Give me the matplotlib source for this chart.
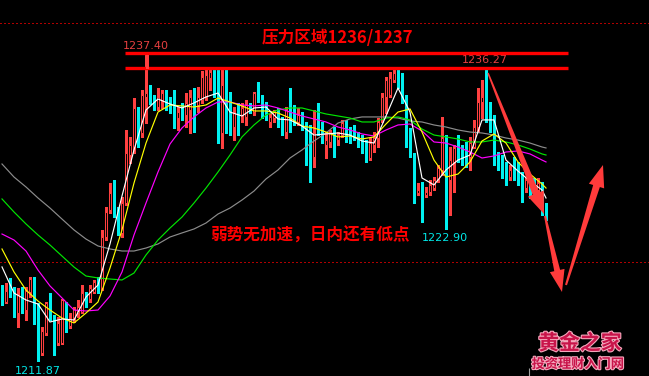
import matplotlib
matplotlib.use("Agg")
import matplotlib.pyplot as plt
import matplotlib.patheffects as pe
from matplotlib.patches import Polygon
import numpy as np

# ---------------- data ----------------
opens = [1217.69,1216.77,1218.02,1217.52,1215.85,1217.69,1216.10,1217.61,1218.69,1216.27,
         1212.51,1214.18,1217.19,1215.27,1213.35,1213.35,1216.60,1214.77,1215.35,1215.85,
         1215.94,1217.52,1217.02,1217.61,1218.78,1217.94,1222.20,1224.46,1225.88,1224.29,
         1222.54,1225.04,1229.05,1229.72,1232.98,1230.89,1233.90,1234.31,1233.65,1233.06,
         1233.65,1234.23,1233.65,1233.06,1232.14,1232.64,1232.39,1232.81,1233.90,1233.23,
         1233.65,1233.90,1235.48,1235.90,1235.32,1230.89,1233.90,1232.14,1231.39,1233.06,
         1232.39,1232.23,1233.06,1232.64,1234.15,1233.90,1233.23,1231.81,1232.14,1232.56,
         1231.97,1230.97,1232.81,1232.23,1231.81,1232.14,1231.39,1229.47,1228.88,1231.81,
         1231.56,1229.89,1230.14,1230.97,1230.30,1230.72,1231.39,1231.14,1230.89,1230.72,
         1230.47,1229.47,1228.80,1229.89,1230.47,1231.97,1233.90,1234.06,1235.32,1235.90,
         1234.73,1233.48,1230.97,1228.88,1225.88,1226.13,1225.71,1225.96,1226.29,1226.96,
         1227.80,1230.56,1226.96,1228.47,1230.56,1229.47,1229.64,1228.88,1229.72,1231.39,
         1233.48,1233.81,1233.06,1232.14,1228.80,1228.47,1227.97,1227.21,1228.63,1227.80,
         1227.38,1226.29,1226.55,1226.80,1226.13,1226.71,1224.29]
highs = [1218.19,1218.36,1218.78,1218.02,1217.94,1218.02,1218.02,1218.86,1218.86,1216.69,
         1214.68,1216.77,1217.52,1215.69,1215.52,1217.02,1216.77,1215.85,1216.35,1216.94,
         1218.19,1217.61,1218.19,1218.61,1218.86,1222.79,1224.71,1226.71,1226.96,1224.71,
         1225.54,1231.14,1230.56,1233.81,1233.06,1234.48,1237.40,1234.90,1234.06,1234.65,
         1234.48,1234.48,1233.90,1234.48,1233.06,1233.40,1234.23,1234.48,1234.65,1234.73,
         1236.07,1236.15,1236.32,1236.40,1236.15,1236.40,1236.40,1234.31,1233.06,1233.40,
         1233.40,1233.65,1233.40,1234.31,1235.15,1234.06,1233.48,1232.56,1232.81,1232.98,
         1232.23,1233.06,1234.65,1233.23,1232.98,1232.64,1231.81,1231.56,1232.81,1233.40,
         1231.81,1230.97,1231.14,1231.39,1230.97,1231.97,1231.97,1231.39,1231.56,1230.97,
         1230.72,1230.30,1230.47,1230.97,1232.14,1234.23,1235.57,1235.99,1236.15,1236.15,
         1235.90,1234.06,1231.31,1229.22,1226.71,1226.80,1226.38,1226.96,1227.21,1228.22,
         1232.23,1230.72,1229.72,1229.89,1230.72,1229.89,1230.14,1230.56,1231.97,1234.65,
         1235.32,1236.27,1233.48,1232.39,1229.30,1229.05,1228.47,1228.22,1228.88,1228.47,
         1227.63,1227.21,1226.80,1227.13,1227.13,1226.80,1225.04]
lows = [1216.52,1216.69,1217.19,1215.52,1214.68,1215.85,1215.27,1217.19,1214.93,1211.87,
        1212.34,1214.01,1215.27,1212.34,1213.18,1213.26,1214.27,1214.60,1215.10,1215.52,
        1215.85,1216.35,1216.77,1217.52,1217.52,1217.77,1221.95,1224.21,1223.87,1222.37,
        1222.20,1224.87,1228.38,1229.22,1229.72,1230.56,1231.72,1233.31,1232.81,1232.81,
        1232.98,1232.81,1232.56,1231.31,1231.14,1231.97,1231.39,1230.89,1230.97,1232.64,
        1233.40,1233.65,1234.48,1233.90,1230.05,1229.64,1230.89,1230.72,1230.30,1230.72,
        1231.81,1231.56,1232.56,1232.39,1233.48,1232.14,1231.97,1231.39,1231.81,1231.39,
        1230.72,1230.47,1230.97,1231.56,1231.56,1231.14,1228.22,1226.80,1228.05,1230.72,
        1230.05,1228.80,1229.72,1228.88,1229.89,1230.56,1230.14,1230.05,1230.30,1229.72,
        1229.22,1228.47,1228.63,1229.30,1229.72,1231.81,1232.56,1233.90,1235.15,1234.65,
        1233.40,1229.72,1228.88,1225.04,1225.71,1223.45,1225.54,1225.71,1226.13,1226.80,
        1227.38,1222.90,1224.04,1225.96,1228.47,1228.22,1228.05,1227.80,1229.64,1230.97,
        1232.14,1231.81,1230.97,1228.22,1227.80,1227.13,1226.55,1226.96,1226.96,1226.55,
        1225.13,1225.96,1225.46,1225.71,1225.96,1224.04,1223.62]
closes = [1216.69,1217.69,1217.36,1215.69,1217.36,1216.10,1217.69,1218.69,1215.77,1212.51,
          1214.35,1216.69,1215.52,1213.18,1215.02,1216.94,1214.52,1215.43,1216.19,1216.35,
          1217.52,1217.19,1217.94,1218.44,1217.77,1222.20,1224.29,1225.88,1224.29,1222.62,
          1225.04,1229.22,1229.89,1232.98,1230.56,1234.06,1234.23,1233.65,1233.15,1233.90,
          1234.23,1232.98,1232.81,1232.14,1232.64,1232.31,1233.40,1233.90,1233.23,1233.90,
          1235.57,1235.73,1235.99,1234.65,1230.89,1234.90,1231.97,1231.39,1232.56,1232.14,
          1232.98,1233.23,1232.64,1234.23,1233.81,1233.23,1232.23,1232.23,1232.64,1231.81,
          1230.97,1232.81,1231.81,1231.97,1232.39,1231.56,1228.80,1228.80,1230.89,1231.14,
          1230.47,1230.30,1230.97,1230.30,1230.72,1231.72,1230.97,1230.56,1230.56,1230.30,
          1229.47,1228.80,1230.05,1230.47,1231.81,1233.90,1235.32,1235.48,1235.90,1234.73,
          1233.65,1230.89,1229.05,1225.29,1226.13,1225.54,1225.96,1226.55,1226.96,1227.97,
          1230.47,1227.80,1228.63,1229.64,1229.05,1228.88,1228.38,1230.05,1231.39,1233.48,
          1233.90,1232.81,1232.14,1228.80,1228.38,1227.80,1227.21,1227.80,1227.38,1226.80,
          1226.13,1226.96,1225.71,1225.96,1226.71,1224.29,1223.79]

# moving-average lines, read every 3 bars
ma_idx = [0,3,6,9,12,15,18,21,24,27,30,33,36,39,42,45,48,51,54,57,60,63,66,69,72,75,
          78,81,84,87,90,93,96,99,102,105,108,111,114,117,120,123,126,129,132,135,136]
ma_white = [1219.70,1217.52,1216.94,1216.60,1215.10,1215.35,1215.27,1217.19,1218.19,1221.62,
            1225.63,1229.47,1232.81,1233.73,1233.31,1232.98,1233.40,1233.90,1234.23,1232.64,
            1232.31,1232.98,1233.06,1232.06,1231.98,1231.47,1230.72,1230.81,1230.89,1230.72,
            1230.22,1230.05,1232.31,1234.65,1232.64,1227.13,1226.55,1227.80,1228.63,1229.05,
            1231.98,1231.98,1228.63,1227.71,1226.88,1226.13,1225.46]
ma_yellow = [1221.20,1219.28,1217.77,1216.85,1216.10,1215.43,1215.02,1215.85,1216.77,1219.61,
             1222.79,1226.71,1230.05,1232.64,1233.23,1233.15,1233.06,1233.23,1233.81,1233.48,
             1233.15,1232.73,1232.73,1232.56,1232.14,1231.47,1231.31,1230.97,1230.56,1230.64,
             1230.39,1230.56,1231.64,1232.64,1232.90,1230.97,1228.63,1227.21,1227.46,1228.47,
             1230.22,1230.81,1230.05,1228.47,1227.46,1226.63,1226.29]
ma_magenta = [1222.45,1221.95,1221.03,1219.44,1218.11,1217.11,1216.10,1216.02,1216.10,1217.27,
              1219.28,1222.37,1225.04,1227.63,1229.97,1231.31,1232.23,1232.98,1233.48,1233.48,
              1233.23,1233.15,1233.23,1232.98,1232.64,1232.31,1232.06,1231.81,1231.39,1231.14,
              1230.81,1230.64,1231.14,1231.56,1231.64,1231.06,1230.14,1230.05,1229.72,1229.30,
              1228.80,1228.97,1229.30,1229.39,1229.14,1228.63,1228.47]
ma_green = [1225.38,1224.29,1223.29,1222.37,1221.53,1220.61,1219.69,1218.94,1218.78,1218.69,
            1218.61,1219.19,1220.70,1221.95,1222.95,1223.87,1225.04,1226.29,1227.63,1229.05,
            1230.56,1231.56,1232.39,1232.81,1232.98,1232.98,1232.73,1232.48,1232.31,1232.14,
            1231.81,1231.81,1232.14,1232.23,1231.98,1231.22,1230.72,1230.56,1230.39,1230.14,
            1230.14,1230.30,1230.14,1229.89,1229.55,1229.14,1229.05]
ma_gray = [1228.30,1227.21,1226.38,1225.46,1224.62,1223.70,1222.79,1222.03,1221.45,1221.20,
           1221.03,1221.03,1221.28,1221.62,1222.20,1222.54,1222.87,1223.37,1224.12,1224.62,
           1225.29,1226.04,1227.05,1227.80,1228.80,1229.47,1230.22,1230.89,1231.72,1232.06,
           1232.23,1232.23,1232.23,1232.14,1231.89,1231.81,1231.56,1231.39,1231.14,1230.97,
           1230.89,1230.72,1230.47,1230.30,1230.05,1229.72,1229.64]

pressure_label = "压力区域1236/1237"
comment_label = "弱势无加速，日内还有低点"
dotted_levels = [1240.10, 1220.11]

# ---------------- figure ----------------
W, H = 649, 376
fig = plt.figure(figsize=(W / 100, H / 100), dpi=100, facecolor="black")
ax = fig.add_axes([0, 0, 1, 1], facecolor="black")
ax.set_xlim(-0.5, 161.75)
ax.set_ylim(1242.0 - H / 11.97, 1242.0)
ax.axis("off")

RED = "#FF4040"
CYAN = "#00F0F0"

n = len(closes)
x = np.arange(n)
o = np.array(opens); c = np.array(closes); hi = np.array(highs); lo = np.array(lows)
up = c >= o

for lvl in dotted_levels:
    ax.axhline(lvl, color="#B00000", lw=0.8, ls=(0, (1, 2)), zorder=1, antialiased=False)

ax.vlines(x[up], lo[up], hi[up], color=RED, lw=0.8, zorder=2, antialiased=False)
ax.vlines(x[~up], lo[~up], hi[~up], color=CYAN, lw=0.8, zorder=2, antialiased=False)

body_lo = np.minimum(o, c)
body_h = np.maximum(np.abs(c - o), 0.06)
ax.bar(x[~up], body_h[~up], bottom=body_lo[~up], width=0.75, color=CYAN,
       edgecolor=CYAN, linewidth=0, zorder=3, antialiased=False)
ax.bar(x[up], body_h[up], bottom=body_lo[up], width=0.5, facecolor="black",
       edgecolor=RED, linewidth=0.75, zorder=3)

for vals, col in [(ma_gray, "#8C8C8C"), (ma_green, "#00E600"), (ma_magenta, "#FF00FF"),
                  (ma_yellow, "#FFFF00"), (ma_white, "#FFFFFF")]:
    ax.plot(ma_idx, vals, color=col, lw=0.85, zorder=4)

# ---------------- overlay in pixel coordinates ----------------
ov = fig.add_axes([0, 0, 1, 1], facecolor="none")
ov.set_xlim(0, W)
ov.set_ylim(H, 0)
ov.axis("off")

# price labels
imax = int(np.argmax(hi))
ov.text(123, 49, f"{hi[imax]:.2f}", color="#E84040", fontsize=8, family="DejaVu Sans",
        va="baseline", ha="left", zorder=5)
ov.text(462, 63, f"{hi[121]:.2f}", color="#E84040", fontsize=8, family="DejaVu Sans",
        va="baseline", ha="left", zorder=5)
ov.text(422, 241, f"{lo[111]:.2f}", color="#00E8E8", fontsize=8, family="DejaVu Sans",
        va="baseline", ha="left", zorder=5)
ov.text(15, 374, f"{lo.min():.2f}", color="#00E8E8", fontsize=8, family="DejaVu Sans",
        va="baseline", ha="left", zorder=5)

# pressure zone lines
ov.hlines([53.3, 68.3], 125, 567.5, color="#FF0000", lw=2.4, zorder=6)
ov.vlines(147, 55, 68, color=RED, lw=0.8, zorder=7, antialiased=False)

cjk = ["Noto Sans CJK SC", "DejaVu Sans"]
ov.text(262, 37.5, pressure_label, color="#FF0000", fontsize=12, family=cjk,
        fontweight="bold", va="center", ha="left", zorder=7)
ov.text(210, 236, comment_label, color="#FF0000", fontsize=12, family=cjk,
        fontweight="bold", va="center", ha="left", zorder=7)


def tapered_arrow(tail, tip, w_tail, w_shaft, w_head, head_len):
    tail = np.array(tail, float); tip = np.array(tip, float)
    d = tip - tail
    L = np.hypot(*d)
    u = d / L
    nrm = np.array([-u[1], u[0]])
    base = tip - u * head_len
    pts = [tail + nrm * w_tail / 2, base + nrm * w_shaft / 2, base + nrm * w_head / 2,
           tip, base - nrm * w_head / 2, base - nrm * w_shaft / 2, tail - nrm * w_tail / 2]
    return Polygon(pts, closed=True, facecolor="#FF3B3B", edgecolor="none", zorder=8)


ov.add_patch(tapered_arrow((488, 73), (544, 214), 1.5, 7, 17, 22))
ov.add_patch(tapered_arrow((545, 216), (562, 292), 2, 6, 15, 22))
ov.add_patch(tapered_arrow((566, 285), (603, 165), 2, 7, 16, 22))

# watermark
stroke = [pe.withStroke(linewidth=1.6, foreground="#F4A8BC")]
ov.text(580, 343, "黄金之家", color="#C8144A", fontsize=15, family=cjk, fontweight="bold",
        ha="center", va="center", zorder=9, path_effects=stroke)
ov.text(578, 364, "投资理财入门网", color="#C8144A", fontsize=9.5, family=cjk,
        fontweight="bold", ha="center", va="center", zorder=9, path_effects=stroke)
ov.vlines(529, 368, 376, color="#A0A0A0", lw=0.8, zorder=9)

fig.savefig("out.png", dpi=100, facecolor="black")
